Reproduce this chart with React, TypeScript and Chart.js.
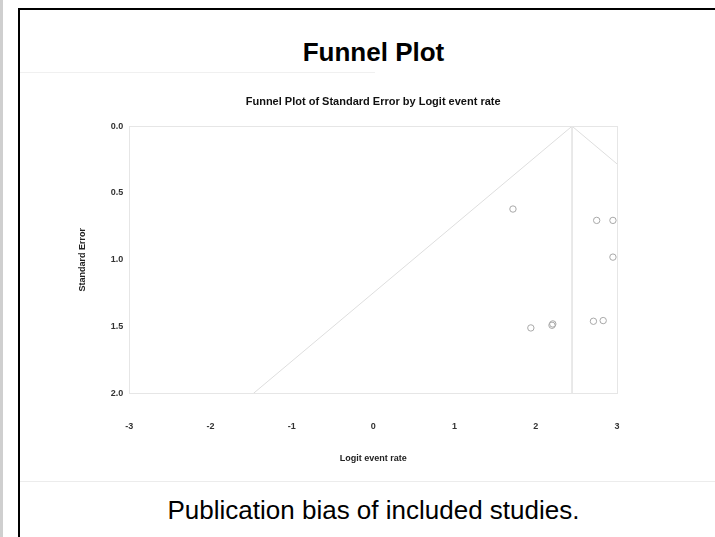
import React, { useEffect, useRef } from "react";
import { Chart, registerables } from "chart.js";

Chart.register(...registerables);

// Study estimates (logit event rate) and their standard errors
const studyLogit = [1.72, 2.75, 2.95, 2.95, 1.94, 2.2, 2.21, 2.71, 2.83];
const studySE = [0.62, 0.705, 0.705, 0.98, 1.51, 1.49, 1.48, 1.46, 1.455];

// Funnel (pseudo 95% limits)
const funnelX = [-1.473, 2.447, 6.367];
const funnelY = [2.0, 0.0, 2.0];
// Pooled estimate vertical line
const pooledX = [2.447, 2.447];
const pooledY = [0.0, 2.0];

const xTicks = [-3, -2, -1, 0, 1, 2, 3];
const yTicks = [0.0, 0.5, 1.0, 1.5, 2.0];

const FONT = "'Liberation Sans', Arial, sans-serif";
const LINE = "#dedede";
const VLINE = "#e6e6e6";

const framePlugin = {
  id: "frame",
  afterDatasetsDraw(chart: any) {
    const { ctx, chartArea } = chart;
    ctx.save();
    ctx.strokeStyle = VLINE;
    ctx.lineWidth = 1;
    ctx.strokeRect(
      Math.round(chartArea.left) + 0.5,
      Math.round(chartArea.top) + 0.5,
      Math.round(chartArea.right - chartArea.left),
      Math.round(chartArea.bottom - chartArea.top)
    );
    ctx.restore();
  },
};

function FunnelChart() {
  const ref = useRef<HTMLCanvasElement>(null);
  useEffect(() => {
    if (!ref.current) return;
    const chart = new Chart(ref.current, {
      type: "scatter",
      data: {
        datasets: [
          {
            type: "line",
            data: funnelX.map((x, i) => ({ x, y: funnelY[i] })),
            borderColor: LINE,
            borderWidth: 1,
            pointRadius: 0,
            fill: false,
          },
          {
            type: "line",
            data: pooledX.map((x, i) => ({ x, y: pooledY[i] })),
            borderColor: VLINE,
            borderWidth: 1,
            pointRadius: 0,
            fill: false,
          },
          {
            data: studyLogit.map((x, i) => ({ x, y: studySE[i] })),
            pointRadius: 3.2,
            pointBorderColor: "#a8a8a8",
            pointBackgroundColor: "rgba(0,0,0,0)",
            pointBorderWidth: 1,
          },
        ],
      },
      options: {
        animation: false,
        responsive: false,
        maintainAspectRatio: false,
        layout: { padding: { left: 57, right: 98, top: 0, bottom: 12 } },
        plugins: {
          legend: { display: false },
          tooltip: { enabled: false },
          title: {
            display: true,
            text: "Funnel Plot of Standard Error by Logit event rate",
            fullSize: false,
            color: "#111",
            font: { family: FONT, size: 11, weight: "bold" },
            padding: { top: 21, bottom: 18 },
          },
        },
        scales: {
          x: {
            type: "linear",
            min: -3,
            max: 3,
            afterBuildTicks: (s: any) => {
              s.ticks = xTicks.map((v) => ({ value: v }));
            },
            grid: {
              display: true,
              drawOnChartArea: false,
              drawTicks: true,
              tickLength: 23,
              tickColor: "rgba(0,0,0,0)",
            },
            border: { display: false },
            ticks: {
              padding: 5,
              color: "#333",
              font: { family: FONT, size: 9, weight: "bold" },
              callback: (v: any) => String(v),
            },
            title: {
              display: true,
              text: "Logit event rate",
              color: "#222",
              font: { family: FONT, size: 9, weight: "bold" },
              padding: { top: 16, bottom: 4 },
            },
          },
          y: {
            type: "linear",
            reverse: true,
            min: 0,
            max: 2,
            afterBuildTicks: (s: any) => {
              s.ticks = yTicks.map((v) => ({ value: v }));
            },
            grid: { display: false, drawTicks: false },
            border: { display: false },
            ticks: {
              padding: 6,
              color: "#333",
              font: { family: FONT, size: 9, weight: "bold" },
              callback: (v: any) => Number(v).toFixed(1),
            },
            title: {
              display: true,
              text: "Standard Error",
              color: "#222",
              font: { family: FONT, size: 9, weight: "bold" },
              padding: { top: 0, bottom: 17 },
            },
          },
        },
      },
      plugins: [framePlugin],
    } as any);
    return () => chart.destroy();
  }, []);
  return <canvas ref={ref} width={695} height={406} style={{ width: 695, height: 406, display: "block" }} />;
}

export default function App() {
  return (
    <div
      style={{
        position: "absolute",
        left: 0,
        top: 0,
        width: 715,
        height: 537,
        overflow: "hidden",
        background: "#fff",
        fontFamily: FONT,
      }}
    >
      <div style={{ position: "absolute", left: 0, top: 0, width: 3, height: 537, background: "#cfcfcf" }} />
      <div
        style={{
          position: "absolute",
          left: 18,
          top: 8,
          width: 720,
          height: 540,
          borderLeft: "2px solid #000",
          borderTop: "2px solid #000",
        }}
      />
      <div
        style={{
          position: "absolute",
          left: 20,
          top: 37,
          width: 707,
          textAlign: "center",
          fontSize: 26,
          lineHeight: "30px",
          fontWeight: "bold",
          color: "#000",
        }}
      >
        Funnel Plot
      </div>
      <div style={{ position: "absolute", left: 20, top: 72, width: 355, height: 1, background: "#f0f0f0" }} />
      <div style={{ position: "absolute", left: 20, top: 74 }}>
        <FunnelChart />
      </div>
      <div style={{ position: "absolute", left: 20, top: 481, width: 700, height: 1, background: "#ececec" }} />
      <div
        style={{
          position: "absolute",
          left: 20,
          top: 495,
          width: 707,
          textAlign: "center",
          fontSize: 26,
          lineHeight: "30px",
          color: "#000",
        }}
      >
        Publication bias of included studies.
      </div>
    </div>
  );
}
